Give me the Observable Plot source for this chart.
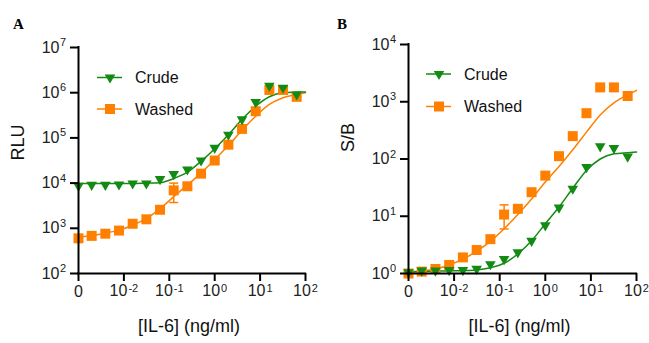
<!DOCTYPE html>
<html><head><meta charset="utf-8">
<script src="https://cdn.jsdelivr.net/npm/d3@7"></script>
<script src="https://cdn.jsdelivr.net/npm/@observablehq/plot@0.6"></script>
<style>
body{margin:0;background:#fff;}
#wrap{position:relative;width:649px;height:343px;overflow:hidden;font-family:"Liberation Sans",Arial,sans-serif;}
.panel{position:absolute;top:0;}
#overlay{position:absolute;left:0;top:0;}
</style></head><body>
<div id="wrap">
<div id="pa" class="panel" style="left:0px"></div>
<div id="pb" class="panel" style="left:330px"></div>
<svg id="overlay" width="649" height="343"></svg>
</div>
<script>
// IL-6 concentrations (ng/ml), 2-fold dilution; 0 is drawn at the left end of the log axis
const conc = [0, 0.00195, 0.0039, 0.0078, 0.0156, 0.03125, 0.0625, 0.125, 0.25, 0.5, 1, 2, 4, 8, 16, 32, 64];
const fitConc = [0, 0.00195, 0.0039, 0.0078, 0.0156, 0.03125, 0.0625, 0.125, 0.25, 0.5, 1, 2, 4, 8, 16, 32, 64, 100];
const zeroPos = 0.001;
const xTickExps = [-2, -1, 0, 1, 2];

// Panel A: RLU
const crudeA  = [8700, 9100, 9100, 9300, 9800, 9800, 12300, 15800, 20000, 31600, 60300, 117500, 257000, 617000, 1413000, 1288000, 912000];
const washedA = [600, 680, 760, 890, 1260, 1580, 2570, 6900, 8500, 16200, 31600, 70800, 158000, 389000, 1150000, 1150000, 810000];
const crudeFitA  = [9800, 9800, 9800, 9800, 9800, 10000, 10200, 12600, 17400, 30200, 57500, 117500, 257000, 501000, 813000, 1000000, 1030000, 1040000];
const washedFitA = [630, 690, 780, 910, 1170, 1660, 2690, 5010, 9120, 16600, 33100, 67600, 148000, 302000, 550000, 776000, 912000, 1000000];
const errA = {conc: 0.125, lo: 3720, hi: 10000};
const yExpsA = [2, 3, 4, 5, 6, 7];

// Panel B: S/B
const crudeB  = [1.05, 1.12, 1.12, 1.15, 1.15, 1.20, 1.45, 1.78, 2.34, 3.72, 6.92, 14.1, 30.2, 72.4, 166, 155, 110];
const washedB = [1.0, 1.08, 1.20, 1.41, 1.91, 2.57, 3.98, 10.7, 13.5, 26.3, 51.3, 112, 251, 631, 1780, 1780, 1260];
const crudeFitB  = [1.08, 1.08, 1.10, 1.11, 1.12, 1.15, 1.26, 1.51, 2.19, 3.72, 7.41, 14.5, 30.9, 63.1, 100, 123, 129, 132];
const washedFitB = [1.02, 1.10, 1.20, 1.41, 1.78, 2.45, 3.63, 6.03, 10.7, 20.0, 39.8, 74.1, 145, 295, 589, 955, 1318, 1585];
const errB = {conc: 0.125, lo: 6.0, hi: 15.8};
const yExpsB = [0, 1, 2, 3, 4];

const seriesNames = ["Crude", "Washed"];
const GREEN = "#138a13";
const ORANGE = "#ff8000";
const FONT = "'Liberation Sans', Arial, sans-serif";

const xPos = c => c === 0 ? zeroPos : c;
const downTri = {draw(ctx) { const h = 5.3; ctx.moveTo(-h, -3.1); ctx.lineTo(h, -3.1); ctx.lineTo(0, 6.1); ctx.closePath(); }};
const sq = {draw(ctx) { const h = 5; ctx.moveTo(-h, -h); ctx.lineTo(h, -h); ctx.lineTo(h, h); ctx.lineTo(-h, h); ctx.closePath(); }};
const cap = {draw(ctx) { ctx.moveTo(-4.5, 0); ctx.lineTo(4.5, 0); }};

// approximate text widths (Liberation Sans) used to centre "10" + superscript on a tick
const BASE_W = 17.8, DIGIT_W = 6.1, MINUS_W = 3.7;
function xTickLabel(e) {
  const s = String(e);
  const ew = (e < 0 ? MINUS_W : 0) + DIGIT_W;
  const total = BASE_W + 1 + ew;
  return [
    Plot.text([e], {x: d => 10 ** d, frameAnchor: "bottom", text: () => "10", textAnchor: "start", dx: -total / 2, dy: 22.5, fontSize: 16, fill: "#222"}),
    Plot.text([e], {x: d => 10 ** d, frameAnchor: "bottom", text: () => s, textAnchor: "start", dx: -total / 2 + BASE_W + 1, dy: 18.5, fontSize: 11, fill: "#222"})
  ];
}

function panel(o) {
  const pts = (arr, xs) => arr.map((v, i) => ({x: xPos(xs[i]), y: v}));
  const yMin = 10 ** o.yExps[0];
  return Plot.plot({
    width: o.width, height: 343,
    marginLeft: o.ml, marginRight: o.mr, marginTop: o.mt, marginBottom: 70,
    x: {type: "log", domain: [zeroPos, 100]},
    y: {type: "log", domain: [yMin, 10 ** o.yExps[o.yExps.length - 1]]},
    style: {fontFamily: FONT, background: "transparent", overflow: "visible"},
    marks: [
      Plot.line(pts(o.washedFit, fitConc), {x: "x", y: "y", stroke: ORANGE, strokeWidth: 1.5, curve: "monotone-x"}),
      Plot.line(pts(o.crudeFit, fitConc), {x: "x", y: "y", stroke: GREEN, strokeWidth: 1.5, curve: "monotone-x"}),
      Plot.ruleX([o.err], {x: d => xPos(d.conc), y1: "lo", y2: "hi", stroke: ORANGE, strokeWidth: 1.5}),
      Plot.dot([o.err.lo, o.err.hi], {x: () => xPos(o.err.conc), y: d => d, symbol: cap, stroke: ORANGE, strokeWidth: 1.5, r: 4}),
      Plot.dot(pts(o.washed, conc), {x: "x", y: "y", symbol: sq, fill: ORANGE, stroke: "none", r: 5}),
      Plot.dot(pts(o.crude, conc), {x: "x", y: "y", symbol: downTri, fill: GREEN, stroke: "none", r: 5}),
      Plot.ruleX([zeroPos], {stroke: "#000", strokeWidth: 2, strokeLinecap: "square"}),
      Plot.ruleY([yMin], {stroke: "#000", strokeWidth: 2, strokeLinecap: "square"}),
      Plot.axisY({ticks: o.yExps.map(e => 10 ** e), tickSize: 8, tickFormat: () => "", stroke: "#000", strokeWidth: 2, label: null}),
      Plot.axisX({ticks: [zeroPos, ...xTickExps.map(e => 10 ** e)], tickSize: 8, tickFormat: () => "", stroke: "#000", strokeWidth: 2, label: null}),
      // y tick labels 10^n
      Plot.text(o.yExps, {x: zeroPos, y: e => 10 ** e, text: () => "10", textAnchor: "end", dx: -19, fontSize: 16, fill: "#222"}),
      Plot.text(o.yExps, {x: zeroPos, y: e => 10 ** e, text: e => String(e), textAnchor: "start", dx: -18.5, dy: -5, fontSize: 11, fill: "#222"}),
      // x tick labels
      Plot.text(["0"], {x: zeroPos, frameAnchor: "bottom", text: d => d, dy: 23, fontSize: 16, fill: "#222"}),
      ...xTickExps.flatMap(xTickLabel),
      // axis titles
      Plot.text([o.yLabel], {frameAnchor: "left", text: d => d, rotate: -90, dx: -60, dy: o.ylDy, fontSize: 18, fill: "#111"}),
      Plot.text(["[IL-6] (ng/ml)"], {frameAnchor: "bottom", text: d => d, dx: -3, dy: 58, fontSize: 18, fill: "#111"})
    ]
  });
}

const A = panel({width: 330, ml: 78, mr: 25, mt: 47, crude: crudeA, washed: washedA, crudeFit: crudeFitA, washedFit: washedFitA, err: errA, yExps: yExpsA, yLabel: "RLU", ylDy: 0});
const B = panel({width: 319, ml: 78, mr: 13, mt: 44, crude: crudeB, washed: washedB, crudeFit: crudeFitB, washedFit: washedFitB, err: errB, yExps: yExpsB, yLabel: "S/B", ylDy: -7});
document.getElementById("pa").appendChild(A);
document.getElementById("pb").appendChild(B);

// legends and panel letters
const ov = d3.select("#overlay");
function legend(x0, y0, gap) {
  const rows = [{name: seriesNames[0], color: GREEN, sym: "tri"}, {name: seriesNames[1], color: ORANGE, sym: "sq"}];
  rows.forEach((r, i) => {
    const y = y0 + i * gap;
    ov.append("line").attr("x1", x0).attr("x2", x0 + 25).attr("y1", y).attr("y2", y).attr("stroke", r.color).attr("stroke-width", 1.5);
    const cx = x0 + 13;
    if (r.sym === "tri") ov.append("path").attr("d", `M${cx - 5.3},${y - 3.1}L${cx + 5.3},${y - 3.1}L${cx},${y + 6.1}Z`).attr("fill", r.color);
    else ov.append("rect").attr("x", cx - 5).attr("y", y - 5).attr("width", 10).attr("height", 10).attr("fill", r.color);
    ov.append("text").attr("x", x0 + 38).attr("y", y).attr("dy", "0.35em").attr("font-family", FONT).attr("font-size", 16).attr("fill", "#111").text(r.name);
  });
}
legend(97, 77.5, 31.5);
legend(426, 74, 32.5);
ov.append("text").attr("x", 13).attr("y", 29.3).attr("font-family", "'Liberation Serif', 'Times New Roman', serif").attr("font-weight", "bold").attr("font-size", 15).text("A");
ov.append("text").attr("x", 337).attr("y", 29.3).attr("font-family", "'Liberation Serif', 'Times New Roman', serif").attr("font-weight", "bold").attr("font-size", 15).text("B");
</script>
</body></html>
